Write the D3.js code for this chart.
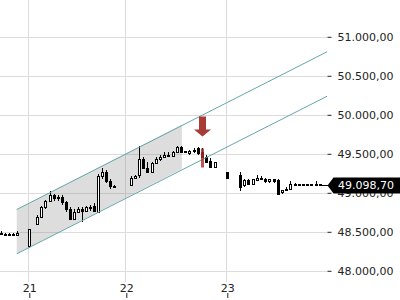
<!DOCTYPE html>
<html>
<head>
<meta charset="utf-8">
<script src="https://cdn.jsdelivr.net/npm/d3@7"></script>
<style>
  body { margin: 0; background: #fff; }
  svg { display: block; font-family: "DejaVu Sans", sans-serif; }
</style>
</head>
<body>
<svg width="400" height="300"></svg>
<script>
// hourly candles, first one at hour -7 (evening of the 20th), hour 0 = day 21 00:00
var firstHour = -7;
var opens  = [48491,48466,48453,48478,48453,48491,48491,48312,48491,48594,48696,48812,48889,48966,48927,48940,48876,48786,48670,48760,48786,48773,48812,48837,48760,49209,49273,49145,49081,49068,49068,49068,49094,49196,49222,49427,49324,49273,49376,49427,49465,49491,49478,49517,49581,49517,49504,49530,49568,49517,49465,49414,49337,49389,49389,49273,49081,49055,49222,49094,49158,49119,49158,49196,49183,49145,49171,49158,49004,49030,49055,49107,49094,49107,49094,49107,49100,49119];
var highs  = [48504,48491,48491,48491,48504,48491,48491,48530,48491,48709,48837,48914,49017,48991,48966,48966,48889,48812,48786,48824,48824,48837,48850,48863,49235,49312,49286,49171,49094,49068,49068,49068,49209,49222,49594,49453,49389,49401,49453,49491,49517,49517,49530,49606,49594,49542,49555,49568,49581,49568,49491,49440,49401,49389,49389,49273,49081,49055,49273,49183,49183,49183,49222,49209,49196,49183,49183,49171,49042,49068,49145,49132,49119,49119,49119,49119,49145,49119];
var lows   = [48453,48440,48440,48440,48453,48491,48491,48286,48491,48581,48683,48786,48876,48901,48901,48850,48760,48645,48645,48735,48632,48760,48773,48748,48748,49171,49132,49055,49068,49068,49068,49068,49081,49196,49196,49299,49248,49260,49363,49414,49453,49465,49465,49504,49504,49504,49491,49504,49491,49453,49389,49324,49337,49389,49389,49196,49081,49055,49017,49068,49094,49107,49145,49171,49132,49132,49132,48978,48991,49017,49042,49081,49094,49081,49081,49094,49094,49094];
var closes = [48466,48453,48478,48453,48491,48491,48491,48530,48491,48696,48812,48889,48966,48927,48940,48876,48786,48658,48760,48786,48773,48812,48799,48773,49209,49273,49145,49081,49068,49068,49068,49068,49196,49209,49427,49324,49273,49376,49427,49465,49491,49478,49517,49581,49517,49530,49542,49555,49504,49465,49401,49337,49389,49389,49389,49196,49081,49055,49068,49158,49119,49171,49196,49183,49145,49171,49145,48991,49030,49055,49107,49094,49107,49094,49107,49100,49119,49098.7];

var dayHours = [0, 24, 48];
var dayLabels = ["21", "22", "23"];
var priceTicks = [48000, 48500, 49000, 49500, 50000, 50500, 51000];

// trend channel: [hour, price] at both ends, fill stops at fillEndHour
var channelUpper = [[-3.1, 48786], [71.7, 50808]];
var channelLower = [[-3.1, 48218], [71.7, 50238]];
var fillEndHour = 37.2;

// sell signal
var signalHour = 42;
var signalHigh = 49568;
var signalLow = 49324;

var svg = d3.select("svg"),
    plotRight = 327.5,
    plotBottom = 282;

var x = d3.scaleLinear().domain(dayHours).range([29.3, 126.3, 227.3]);
var y = d3.scaleLinear().domain([48000, 51000]).range([270.8, 36.8]);

var locale = d3.formatLocale({decimal: ",", thousands: ".", grouping: [3], currency: ["", ""]});
var fmt = locale.format(",.2f");

var candles = opens.map(function(o, i) {
  return {t: firstHour + i, o: o, h: highs[i], l: lows[i], c: closes[i]};
});

// gridlines
svg.append("g").selectAll("line")
  .data(priceTicks).enter().append("line")
  .attr("x1", 0).attr("x2", plotRight)
  .attr("y1", function(d) { return Math.round(y(d)) + 0.5; })
  .attr("y2", function(d) { return Math.round(y(d)) + 0.5; })
  .attr("stroke", "#dcdcdc");

svg.append("g").selectAll("line")
  .data(dayHours).enter().append("line")
  .attr("x1", function(d) { return Math.round(x(d)) - 0.5; })
  .attr("x2", function(d) { return Math.round(x(d)) - 0.5; })
  .attr("y1", 0).attr("y2", plotBottom)
  .attr("stroke", "#dcdcdc");

// channel fill
var xEnd = fillEndHour;
function lineAt(pts, t) {
  var k = (pts[1][1] - pts[0][1]) / (pts[1][0] - pts[0][0]);
  return pts[0][1] + k * (t - pts[0][0]);
}
var area = [
  [x(channelUpper[0][0]), y(channelUpper[0][1])],
  [x(xEnd), y(lineAt(channelUpper, xEnd))],
  [x(xEnd), y(lineAt(channelLower, xEnd))],
  [x(channelLower[0][0]), y(channelLower[0][1])]
];
svg.append("path")
  .attr("d", "M" + area.join("L") + "Z")
  .attr("fill", "rgba(120,120,120,0.25)");

// candles
var bodyW = 2;
var cg = svg.append("g").attr("shape-rendering", "crispEdges");
var cs = cg.selectAll("g").data(candles).enter().append("g");
cs.append("line")
  .attr("x1", function(d) { return Math.round(x(d.t)) + 0.5; })
  .attr("x2", function(d) { return Math.round(x(d.t)) + 0.5; })
  .attr("y1", function(d) { return y(d.h); })
  .attr("y2", function(d) { return y(d.l); })
  .attr("stroke", "#000");
cs.append("rect")
  .attr("x", function(d) { return Math.round(x(d.t)) - bodyW / 2 + 0.5; })
  .attr("width", bodyW)
  .attr("y", function(d) { return Math.round(y(Math.max(d.o, d.c))) + 0.5; })
  .attr("height", function(d) { return Math.abs(Math.round(y(d.o)) - Math.round(y(d.c))); })
  .attr("fill", function(d) { return d.c >= d.o ? "#fff" : "#000"; })
  .attr("stroke", "#000");

// channel lines
[channelUpper, channelLower].forEach(function(pts) {
  svg.append("line")
    .attr("x1", x(pts[0][0])).attr("y1", y(pts[0][1]))
    .attr("x2", x(pts[1][0])).attr("y2", y(pts[1][1]))
    .attr("stroke", "#64a7ae").attr("stroke-width", 1);
});

// signal marker
var sx = Math.round(x(signalHour)) + 0.5;
svg.append("rect")
  .attr("x", sx - 1.5).attr("width", 3)
  .attr("y", y(signalHigh)).attr("height", y(signalLow) - y(signalHigh))
  .attr("fill", "rgba(170,45,40,0.8)");
var tipY = y(signalHigh) - 12;
svg.append("path")
  .attr("d", "M" + (sx - 3.5) + "," + (tipY - 20) + "H" + (sx + 3.5) + "V" + (tipY - 7) +
             "H" + (sx + 8.5) + "L" + sx + "," + tipY + "L" + (sx - 8.5) + "," + (tipY - 7) +
             "H" + (sx - 3.5) + "Z")
  .attr("fill", "#a83b34");

// y axis on the right
var yAxis = svg.append("g")
  .attr("transform", "translate(" + plotRight + ",0)")
  .call(d3.axisRight(y).tickValues(priceTicks).tickFormat(fmt).tickSize(4).tickPadding(6));
yAxis.select(".domain").remove();
yAxis.selectAll("line").attr("stroke", "#222");
yAxis.selectAll("text").attr("fill", "#222").style("font-size", "11px").style("font-family", "DejaVu Sans");

// x axis, labels above the ticks
var xAxis = svg.append("g")
  .attr("transform", "translate(0,298)")
  .call(d3.axisTop(x).tickValues(dayHours)
    .tickFormat(function(d, i) { return dayLabels[i]; })
    .tickSize(5).tickPadding(1.5));
xAxis.select(".domain").remove();
xAxis.selectAll("line").attr("stroke", "#222");
xAxis.selectAll("text").attr("fill", "#222").style("font-size", "11px").style("font-family", "DejaVu Sans");

// last price line + label
var last = candles[candles.length - 1];
var ly = Math.round(y(last.c)) + 0.5;
svg.append("line")
  .attr("x1", Math.round(x(last.t)) + 2).attr("x2", plotRight + 1)
  .attr("y1", ly).attr("y2", ly)
  .attr("stroke", "#000");
svg.append("path")
  .attr("d", "M" + plotRight + "," + ly + "L" + (plotRight + 6) + "," + (ly - 8) + "H400V" + (ly + 8) + "H" + (plotRight + 6) + "Z")
  .attr("fill", "#000");
svg.append("text")
  .attr("x", 338).attr("y", ly).attr("dy", "0.35em")
  .attr("fill", "#fff").style("font-size", "11px")
  .text(fmt(last.c));
</script>
</body>
</html>
